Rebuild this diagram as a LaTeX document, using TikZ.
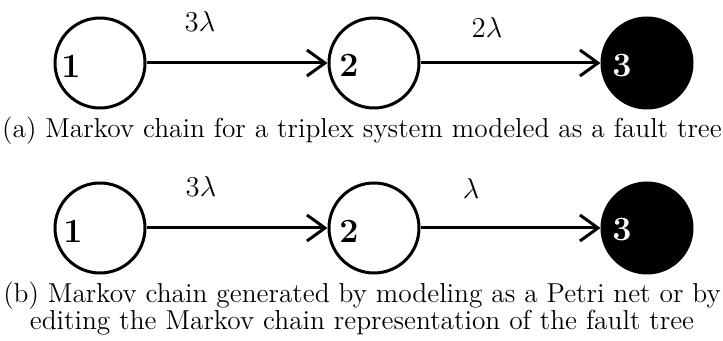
\documentclass[tikz,border=0pt]{standalone}
\usetikzlibrary{arrows.meta}
\begin{document}
\begin{tikzpicture}[x=0.5pt,y=-0.5pt,
  state/.style={circle,draw,line width=1.5pt,minimum size=45pt,inner sep=0pt},
  final/.style={state,fill=black},
  num/.style={font=\fontsize{17}{17}\selectfont\bfseries,inner sep=0pt},
  rate/.style={font=\fontsize{15}{15}\selectfont,inner sep=0pt},
  trans/.style={line width=1.5pt,-{Straight Barb[length=9pt,width=13pt,line width=1.5pt]}},
  captext/.style={font=\fontsize{13.7}{15}\selectfont,inner sep=0pt,align=center}]
\useasboundingbox (0,0) rectangle (723,341);
% row (a)
\node[state] (a1) at (100,63) {};
\node[state] (a2) at (374,63) {};
\node[final] (a3) at (647,63) {};
\node[num] (ta1) at (71,66) {1};
\node[num] (ta2) at (349,65) {2};
\node[num,text=white] (ta3) at (622,66) {3};
\draw[trans] (a1) -- (a2);
\draw[trans] (a2) -- (a3);
\node[rate] (ra1) at (200,22) {$3\lambda$};
\node[rate] (ra2) at (487,28) {$2\lambda$};
\node[captext,anchor=base] (capa) at (362,138) {(a) Markov chain for a triplex system modeled as a fault tree};
% row (b)
\node[state] (b1) at (100,228) {};
\node[state] (b2) at (374,228) {};
\node[final] (b3) at (647,228) {};
\node[num] (tb1) at (73,231) {1};
\node[num] (tb2) at (349,231) {2};
\node[num,text=white] (tb3) at (622,230) {3};
\draw[trans] (b1) -- (b2);
\draw[trans] (b2) -- (b3);
\node[rate] (rb1) at (201,187) {$3\lambda$};
\node[rate] (rb2) at (471,189) {$\lambda$};
\node[captext,anchor=base] (capb1) at (362,303) {(b) Markov chain generated by modeling as a Petri net or by};
\node[captext,anchor=base] (capb2) at (362,330) {editing the Markov chain representation of the fault tree};
\end{tikzpicture}
\end{document}
